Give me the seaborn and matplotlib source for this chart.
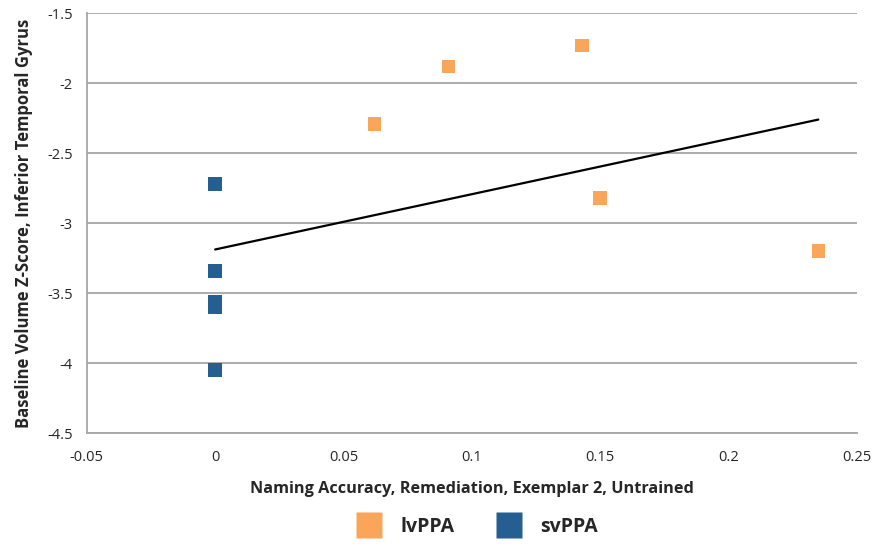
import matplotlib
matplotlib.use("Agg")
import matplotlib.pyplot as plt
import seaborn as sns
import pandas as pd
import numpy as np
from matplotlib.lines import Line2D

lv_x = [0.062, 0.091, 0.143, 0.150, 0.235]
lv_y = [-2.29, -1.88, -1.73, -2.82, -3.20]
sv_x = [0.0, 0.0, 0.0, 0.0, 0.0]
sv_y = [-2.72, -3.34, -3.56, -3.60, -4.05]
groups = ["lvPPA", "svPPA"]
colors = {"lvPPA": "#F9A65A", "svPPA": "#255E91"}
xticks = [-0.05, 0, 0.05, 0.1, 0.15, 0.2, 0.25]
yticks = [-1.5, -2, -2.5, -3, -3.5, -4, -4.5]

df = pd.DataFrame({
    "x": lv_x + sv_x,
    "y": lv_y + sv_y,
    "group": ["lvPPA"] * len(lv_x) + ["svPPA"] * len(sv_x),
})

sns.set_style("white")
plt.rcParams["font.family"] = ["Open Sans", "DejaVu Sans"]

fig = plt.figure(figsize=(8.77, 5.49), dpi=100)
ax = fig.add_axes([0.099, 0.211, 0.878, 0.765])

for v in yticks:
    ax.axhline(v, color="#a6a6a6", lw=1.3, zorder=0)

sns.regplot(data=df, x="x", y="y", scatter=False, ci=None, truncate=True,
            line_kws={"color": "black", "lw": 1.6}, ax=ax)
sns.scatterplot(data=df, x="x", y="y", hue="group", palette=colors,
                marker="s", s=95, edgecolor="none", legend=False, ax=ax, zorder=3)

ax.set_xlim(-0.05, 0.25)
ax.set_ylim(-4.5, -1.5)
ax.set_xticks(xticks)
ax.set_xticklabels(["-0.05", "0", "0.05", "0.1", "0.15", "0.2", "0.25"])
ax.set_yticks(yticks)
ax.set_yticklabels(["-1.5", "-2", "-2.5", "-3", "-3.5", "-4", "-4.5"])
ax.tick_params(axis="both", labelsize=10.5, length=4, color="#a6a6a6", width=1.3,
               direction="out", pad=6)
ax.tick_params(axis="x", pad=8)
for s in ["top", "right"]:
    ax.spines[s].set_visible(False)
for s in ["left", "bottom"]:
    ax.spines[s].set_color("#a6a6a6")
    ax.spines[s].set_linewidth(1.3)

ax.set_xlabel("Naming Accuracy, Remediation, Exemplar 2, Untrained",
              fontsize=11.7, fontweight="bold", labelpad=12)
ax.set_ylabel("Baseline Volume Z-Score, Inferior Temporal Gyrus",
              fontsize=12, fontweight="bold", labelpad=10)

handles = [Line2D([], [], marker="s", linestyle="none", markersize=19,
                  markerfacecolor=colors[g], markeredgecolor="none") for g in groups]
fig.legend(handles, groups, loc="center", bbox_to_anchor=(0.54, 0.04), ncol=2,
           frameon=False, prop={"weight": "bold", "size": 14}, handletextpad=0.6,
           columnspacing=1.8)

fig.savefig("out.png", dpi=100)
